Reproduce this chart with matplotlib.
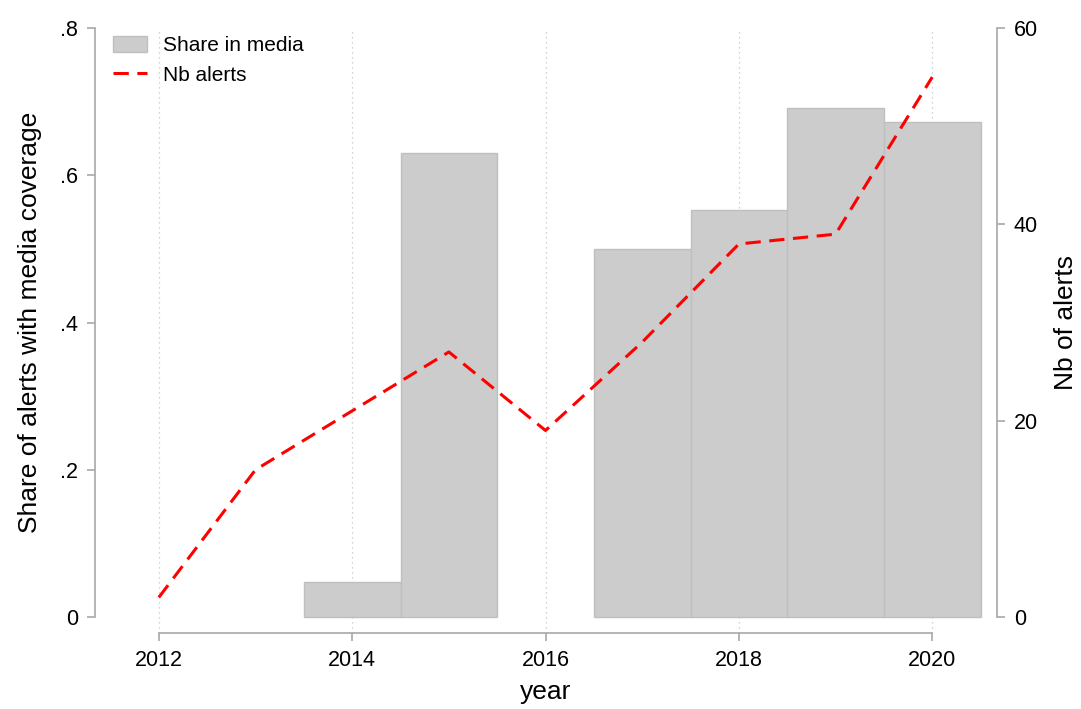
import matplotlib.pyplot as plt
from matplotlib.patches import Patch
from matplotlib.lines import Line2D

plt.rcParams['font.family'] = ['Liberation Sans', 'DejaVu Sans']

years = [2012, 2013, 2014, 2015, 2016, 2017, 2018, 2019, 2020]
nb_alerts = [2, 15, 21, 27, 19, 28, 38, 39, 55]

bar_years = [2014, 2015, 2017, 2018, 2019, 2020]
share_media = [0.048, 0.630, 0.500, 0.553, 0.692, 0.673]

axis_grey = "#a8a8a8"

fig = plt.figure(figsize=(10.81, 7.09), dpi=100)
ax = fig.add_axes([0.0879, 0.1072, 0.9223 - 0.0879, 0.9605 - 0.1072])
ax2 = ax.twinx()

ax.bar(bar_years, share_media, width=1.0, color="#cccccc",
       edgecolor="#bfbfbf", linewidth=1.0, zorder=2)
ax2.plot(years, nb_alerts, color="red", linestyle=(0, (5, 2.8)),
         linewidth=2.2, dash_capstyle="butt")

ax.set_xlim(2011.34, 2020.67)
ax.set_ylim(-0.0217, 0.8)
ax2.set_ylim(-0.0217 * 75, 60)

ax.set_xticks([2012, 2014, 2016, 2018, 2020])
ax.set_yticks([0, 0.2, 0.4, 0.6, 0.8])
ax.set_yticklabels(["0", ".2", ".4", ".6", ".8"])
ax2.set_yticks([0, 20, 40, 60])

ax.grid(axis="x", color="#c4c4c4", linestyle=(0, (1, 3)), linewidth=0.9)
ax.set_axisbelow(True)

for a in (ax, ax2):
    for s in a.spines.values():
        s.set_color(axis_grey)
        s.set_linewidth(1.2)
    a.spines["top"].set_visible(False)
    a.tick_params(colors=axis_grey, labelcolor="black", labelsize=15.5,
                  length=6, width=1.2, pad=6)
ax.spines["right"].set_visible(False)
ax2.spines["left"].set_visible(False)
ax2.spines["bottom"].set_visible(False)
ax.spines["left"].set_bounds(0, 0.8)
ax.spines["bottom"].set_bounds(2012, 2020)
ax2.spines["right"].set_bounds(0, 60)

ax.set_xlabel("year", fontsize=19, labelpad=7)
ax.set_ylabel("Share of alerts with media coverage", fontsize=19)
ax2.set_ylabel("Nb of alerts", fontsize=19)
ax.yaxis.set_label_coords(-0.059, 0.513)
ax2.yaxis.set_label_coords(1.063, 0.513)

handles = [Patch(facecolor="#cccccc", edgecolor="#bfbfbf"),
           Line2D([0], [0], color="red", linestyle=(0, (5, 2.8)), linewidth=2.2)]
ax2.legend(handles, ["Share in media", "Nb alerts"], loc="upper left",
           bbox_to_anchor=(0.02, 0.987), frameon=False, fontsize=15,
           handlelength=1.63, handleheight=0.8, handletextpad=0.75,
           labelspacing=0.5, borderpad=0, borderaxespad=0)

fig.savefig("out.png", dpi=100)
